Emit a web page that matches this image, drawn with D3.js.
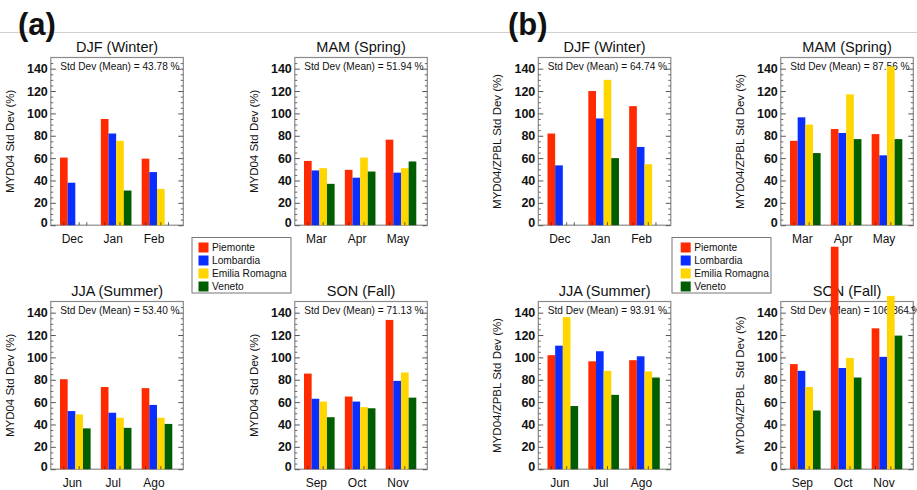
<!DOCTYPE html>
<html><head><meta charset="utf-8">
<script src="https://cdn.jsdelivr.net/npm/d3@7"></script>
<style>
body{margin:0;background:#fff}
svg{display:block}
text{font-family:"Liberation Sans",Arial,Helvetica,sans-serif;fill:#111}
</style>
</head><body>
<svg id="c" width="917" height="490"></svg>
<script>
// ---------- data ----------
const regions = ["Piemonte", "Lombardia", "Emilia Romagna", "Veneto"];
const regionColors = ["#ff2a00", "#0a2eff", "#ffd600", "#005e00"];
const yTicks = [0, 20, 40, 60, 80, 100, 120, 140];
const yMinorTicks = [5,10,15,25,30,35,45,50,55,65,70,75,85,90,95,105,110,115,125,130,135,145];

const monthsDJF = ["Dec", "Jan", "Feb"];
const monthsMAM = ["Mar", "Apr", "May"];
const monthsJJA = ["Jun", "Jul", "Ago"];
const monthsSON = ["Sep", "Oct", "Nov"];
const seasonTitles = ["DJF (Winter)", "MAM (Spring)", "JJA (Summer)", "SON (Fall)"];

// (a) MYD04 std dev (%) — rows = months, columns = regions
const aDJF = [[60.5, 38, null, null], [95, 82, 75.5, 31], [59.5, 47.5, 32.5, null]];
const aMAM = [[57.5, 49, 51, 37], [49.5, 42.5, 60.5, 48], [76.5, 47, 51, 57]];
const aJJA = [[80.5, 52, 49, 36.5], [73.5, 50.5, 46, 37], [72.5, 57.5, 46, 40.5]];
const aSON = [[85.5, 63, 60.5, 46.5], [65, 60.5, 55.5, 54.5], [133.5, 79, 86.5, 64]];
const aMeans = ["43.78", "51.94", "53.40", "71.13"];

// (b) MYD04/ZPBL std dev (%)
const bDJF = [[82, 53.5, null, null], [120, 95.5, 130, 60], [106.5, 70, 54.5, null]];
const bMAM = [[75.5, 96.5, 90, 64.5], [86, 82.5, 117, 77], [81.5, 62.5, 142, 77]];
const bJJA = [[102, 110.5, 136, 56.5], [96.5, 105.5, 88, 66.5], [97.5, 101, 87.5, 82]];
const bSON = [[94, 88, 73.5, 52.5], [199, 90.5, 99.5, 82], [126, 100.5, 155, 119.5]];
const bMeans = ["64.74", "87.56", "93.91", "106.364"];

const yLabelA = "MYD04 Std Dev (%)";
const yLabelB = "MYD04/ZPBL Std Dev (%)";
const yLabelB2 = "MYD04/ZPBL  Std Dev (%)";

// ---------- layout ----------
const W = 917, H = 490;
const colLeft = [50.8, 294.8, 538.3, 780.8];
const boxW = 132.5;
const rowTop = [57.5, 301.5];
const boxH = 167.7;

const svg = d3.select("#c");

// separator line
svg.append("line").attr("x1", 0).attr("x2", W).attr("y1", 32.5).attr("y2", 32.5)
  .attr("stroke", "#d0d0d0").attr("stroke-width", 1);
svg.append("text").attr("x", 18).attr("y", 35).attr("font-size", 31).attr("font-weight", "bold").text("(a)");
svg.append("text").attr("x", 508).attr("y", 35).attr("font-size", 31).attr("font-weight", "bold").text("(b)");

const panels = [
  {data: aDJF, months: monthsDJF, title: seasonTitles[0], mean: aMeans[0], ylab: yLabelA, col: 0, row: 0},
  {data: aMAM, months: monthsMAM, title: seasonTitles[1], mean: aMeans[1], ylab: yLabelA, col: 1, row: 0},
  {data: aJJA, months: monthsJJA, title: seasonTitles[2], mean: aMeans[2], ylab: yLabelA, col: 0, row: 1},
  {data: aSON, months: monthsSON, title: seasonTitles[3], mean: aMeans[3], ylab: yLabelA, col: 1, row: 1},
  {data: bDJF, months: monthsDJF, title: seasonTitles[0], mean: bMeans[0], ylab: yLabelB, col: 2, row: 0},
  {data: bMAM, months: monthsMAM, title: seasonTitles[1], mean: bMeans[1], ylab: yLabelB, col: 3, row: 0},
  {data: bJJA, months: monthsJJA, title: seasonTitles[2], mean: bMeans[2], ylab: yLabelB, col: 2, row: 1},
  {data: bSON, months: monthsSON, title: seasonTitles[3], mean: bMeans[3], ylab: yLabelB2, col: 3, row: 1}
];

panels.forEach(p => {
  const x0 = colLeft[p.col], x1 = x0 + boxW;
  const y0 = rowTop[p.row], y1 = y0 + boxH;
  const g = svg.append("g");

  const y = d3.scaleLinear().domain([0, 150]).range([y1, y0]);
  const xm = d3.scaleBand().domain(p.months).range([x0 + 9.2, x1 - 11]).paddingInner(0.25).paddingOuter(0);
  const xs = d3.scaleBand().domain(regions).range([0, xm.bandwidth()]);
  const color = d3.scaleOrdinal().domain(regions).range(regionColors);

  // frame
  g.append("rect").attr("x", x0).attr("y", y0).attr("width", boxW).attr("height", boxH)
    .attr("fill", "none").attr("stroke", "#8a8a8a").attr("stroke-width", 1.2);

  // left axis (ticks inward)
  const axL = g.append("g").attr("transform", `translate(${x0},0)`)
    .call(d3.axisLeft(y).tickValues(yTicks).tickSize(-5).tickPadding(3).tickFormat(d3.format("d")));
  axL.select(".domain").remove();
  axL.selectAll("line").attr("stroke", "#555");
  axL.selectAll("text").attr("font-size", 12.5).attr("font-weight", "bold")
    .attr("font-family", "'Liberation Sans Narrow','Liberation Sans',Arial,sans-serif").attr("fill", "#111");
  axL.selectAll(".tick").filter(d => d === 0).select("text").attr("dy", "0.1em");
  const axLm = g.append("g").attr("transform", `translate(${x0},0)`)
    .call(d3.axisLeft(y).tickValues(yMinorTicks).tickSize(-2.5).tickFormat(""));
  axLm.select(".domain").remove();
  axLm.selectAll("line").attr("stroke", "#666");

  const axR = g.append("g").attr("transform", `translate(${x1},0)`)
    .call(d3.axisRight(y).tickValues(yTicks).tickSize(-5).tickFormat(""));
  axR.select(".domain").remove();
  axR.selectAll("line").attr("stroke", "#555");
  const axRm = g.append("g").attr("transform", `translate(${x1},0)`)
    .call(d3.axisRight(y).tickValues(yMinorTicks).tickSize(-2.5).tickFormat(""));
  axRm.select(".domain").remove();
  axRm.selectAll("line").attr("stroke", "#666");

  // title
  g.append("text").attr("x", (x0 + x1) / 2).attr("y", y0 - 6).attr("text-anchor", "middle")
    .attr("font-size", 14.5).text(p.title);
  // mean text
  g.append("text").attr("x", x0 + 9.5).attr("y", y0 + 12.5).attr("font-size", 10.1)
    .text(`Std Dev (Mean) = ${p.mean} %`);
  // y label
  g.append("text").attr("transform", `translate(${x0 - 37},${(y0 + y1) / 2}) rotate(-90)`)
    .attr("text-anchor", "middle").attr("font-size", 11.5).style("white-space", "pre").text(p.ylab);

  // month labels
  g.selectAll("text.month").data(p.months).enter().append("text").attr("class", "month")
    .attr("x", d => xm(d) + xm.bandwidth() / 2 - 3).attr("y", y1 + 17.8)
    .attr("text-anchor", "middle").attr("font-size", 12).text(d => d);

  // bars
  p.months.forEach((m, i) => {
    const rows = regions.map((r, j) => ({r, v: p.data[i][j]}));
    g.selectAll(null).data(rows.filter(d => d.v != null)).enter().append("rect")
      .attr("x", d => xm(m) + xs(d.r)).attr("width", xs.bandwidth())
      .attr("y", d => y(d.v)).attr("height", d => y(0) - y(d.v))
      .attr("fill", d => color(d.r));
    // small bottom ticks at bar centres
    g.selectAll(null).data(regions).enter().append("line")
      .attr("x1", d => xm(m) + xs(d) + xs.bandwidth() / 2)
      .attr("x2", d => xm(m) + xs(d) + xs.bandwidth() / 2)
      .attr("y1", y(0)).attr("y2", y(0) - 3).attr("stroke", "#333").attr("stroke-width", 0.8);
  });
});

// legends
[{x: 192, y: 237.5}, {x: 672, y: 237.5}].forEach((L, k) => {
  const lg = svg.append("g").attr("transform", `translate(${L.x},${L.y})`);
  lg.append("rect").attr("width", 99).attr("height", 55.5).attr("fill", "#fff")
    .attr("stroke", "#777").attr("stroke-width", 1);
  const ly = d3.scaleBand().domain(regions).range([3.5, 55.5]);
  const sx = k === 0 ? 6.5 : 8.7;
  regions.forEach((r, i) => {
    lg.append("rect").attr("x", sx).attr("y", ly(r) + ly.bandwidth() / 2 - 5)
      .attr("width", 10).attr("height", 10).attr("fill", regionColors[i]);
    lg.append("text").attr("x", sx + 13.5).attr("y", ly(r) + ly.bandwidth() / 2 + 3.7)
      .attr("font-size", 10.2).text(r);
  });
});
</script>
</body></html>
